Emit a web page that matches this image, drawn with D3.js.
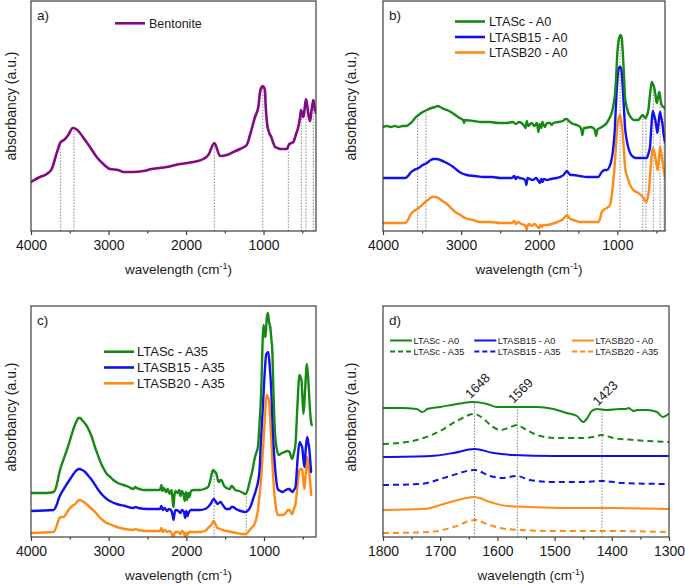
<!DOCTYPE html>
<html><head><meta charset="utf-8">
<script src="https://cdn.jsdelivr.net/npm/d3@7"></script>
<style>body{margin:0;background:#fff}svg{display:block;font-family:"Liberation Sans",Arial,sans-serif}</style>
</head><body>
<svg id="chart" width="685" height="586"></svg>
<script>
// ---------- DATA (wavenumber cm-1, absorbance a.u.) ----------
const bentonite = [[4000,49],[3884,54],[3797,57],[3733,62],[3668,78],[3617,89],[3574,91],[3519,96],[3462,103],[3419,102],[3368,98],[3303,91],[3239,84],[3153,74],[3067,67],[2981,62],[2874,61],[2809,59],[2680,59],[2551,60],[2443,62],[2249,64],[2077,67],[1905,69],[1776,72],[1712,76],[1634,88],[1561,75],[1475,76],[1389,79],[1303,82],[1217,86],[1174,96],[1110,114],[1067,124],[1045,139],[1023,144],[1010,145],[990,143],[981,140],[972,125],[955,108],[935,100],[900,94],[874,88],[850,84],[820,83],[787,82],[720,82],[701,82],[680,85],[667,87],[640,88],[615,89],[580,97],[551,104],[530,113],[516,121],[500,116],[486,114],[470,122],[452,132],[435,125],[420,116],[400,110],[385,118],[370,126],[357,131],[343,124],[323,118]];
const bentoniteMarks = [3617,3445,1634,1010,680,512,452,357];

const ltascA0 = [[4000,104],[3950,105],[3900,104],[3850,105],[3800,104],[3750,105],[3700,105],[3660,107],[3629,109],[3590,113],[3545,116],[3490,119],[3437,121],[3380,123],[3331,124],[3300,125],[3267,124],[3220,122],[3182,121],[3130,119],[3075,116],[3020,113],[2975,111],[2962,108],[2950,111],[2841,110],[2740,109],[2628,109],[2520,108],[2414,108],[2340,109],[2300,107],[2260,109],[2200,106],[2175,103],[2160,110],[2140,105],[2100,108],[2060,105],[2030,108],[2010,99],[1995,107],[1975,103],[1960,109],[1930,104],[1900,108],[1860,108],[1840,106],[1818,108],[1700,110],[1660,112],[1647,112],[1620,110],[1590,108],[1563,107],[1520,106],[1477,104],[1460,101],[1448,96],[1440,99],[1430,103],[1413,103],[1350,104],[1307,103],[1285,100],[1272,95],[1262,99],[1250,102],[1221,103],[1180,105],[1136,108],[1100,113],[1072,118],[1050,126],[1029,138],[1015,155],[1000,178],[985,190],[974,194],[960,196],[944,193],[933,182],[923,168],[912,150],[902,134],[880,124],[859,118],[830,114],[795,111],[760,111],[731,111],[700,114],[675,116],[655,114],[637,113],[620,116],[603,121],[580,138],[560,149],[545,147],[530,144],[512,136],[496,128],[480,133],[463,139],[448,132],[433,126],[410,124],[390,123]];
const ltasb15A0 = [[4000,53],[3715,53],[3680,55],[3651,58],[3600,61],[3545,63],[3490,66],[3437,68],[3390,71],[3353,72],[3310,72],[3267,71],[3210,69],[3161,67],[3100,64],[3054,61],[3000,58],[2926,56],[2820,55],[2713,54],[2600,54],[2500,53],[2414,53],[2350,53],[2320,55],[2300,52],[2280,54],[2250,53],[2200,52],[2175,50],[2165,46],[2155,50],[2150,53],[2120,52],[2080,51],[2040,53],[2010,50],[1990,48],[1975,52],[1960,49],[1940,52],[1903,51],[1850,52],[1780,53],[1733,54],[1690,56],[1660,59],[1647,60],[1625,58],[1600,56],[1563,56],[1480,55],[1391,54],[1300,54],[1243,54],[1200,59],[1160,61],[1136,61],[1085,68],[1051,84],[1030,105],[1017,128],[1000,150],[987,161],[970,164],[957,164],[940,155],[931,144],[915,122],[902,104],[880,91],[859,83],[830,77],[795,74],[760,73],[710,73],[660,73],[624,73],[600,78],[582,84],[565,104],[547,120],[530,116],[514,111],[500,104],[488,98],[470,110],[454,119],[440,114],[424,108],[410,98],[390,89]];
const ltasb20A0 = [[4000,8],[3715,8],[3680,11],[3651,16],[3620,19],[3580,21],[3545,23],[3500,26],[3459,29],[3410,32],[3373,34],[3330,34],[3289,33],[3240,30],[3182,27],[3130,23],[3075,19],[3010,16],[2948,13],[2850,11],[2756,9],[2620,9],[2500,8],[2414,8],[2350,8],[2320,10],[2300,7],[2270,9],[2230,7],[2190,6],[2170,4],[2160,1],[2150,5],[2130,7],[2100,5],[2060,7],[2020,4],[2000,3],[1985,6],[1965,4],[1950,6],[1903,6],[1800,8],[1740,10],[1711,11],[1670,14],[1645,16],[1625,14],[1600,12],[1563,11],[1480,9],[1391,9],[1300,9],[1243,9],[1215,14],[1200,19],[1160,22],[1136,23],[1093,26],[1059,44],[1029,71],[1000,104],[980,114],[965,116],[950,110],[936,101],[915,80],[902,64],[880,56],[859,51],[830,45],[795,41],[760,39],[731,38],[700,36],[667,33],[633,29],[615,32],[595,41],[575,62],[547,83],[530,80],[514,74],[498,66],[483,61],[468,72],[454,84],[440,79],[424,71],[405,60],[390,54]];
const marksA0 = [3557,3450,1639,965,675,633,539,454,403];

const ltascA35 = [[4000,44],[3800,44],[3710,45],[3680,49],[3666,53],[3633,65],[3602,73],[3570,80],[3538,87],[3505,95],[3474,103],[3445,110],[3418,115],[3389,119],[3365,119],[3345,117],[3320,115],[3290,112],[3255,107],[3217,100],[3185,92],[3153,85],[3120,78],[3089,72],[3055,67],[3024,63],[2980,60],[2940,57],[2880,54],[2811,52],[2740,50],[2683,48],[2655,50],[2640,49],[2600,48],[2555,47],[2480,47],[2383,47],[2340,47],[2320,52],[2310,46],[2290,49],[2260,45],[2240,48],[2215,43],[2190,47],[2175,36],[2165,30],[2155,40],[2140,46],[2110,44],[2090,47],[2075,41],[2060,46],[2040,44],[2020,36],[2005,45],[1990,37],[1975,44],[1960,40],[1940,46],[1900,47],[1827,47],[1770,48],[1720,50],[1690,57],[1670,64],[1656,67],[1640,66],[1612,63],[1590,56],[1579,55],[1560,57],[1540,56],[1520,52],[1484,49],[1440,48],[1420,51],[1399,50],[1370,47],[1320,46],[1270,44],[1236,43],[1210,47],[1185,55],[1150,66],[1121,78],[1100,84],[1078,90],[1060,110],[1035,147],[1015,200],[1005,212],[992,203],[980,200],[965,218],[950,224],[935,215],[919,210],[905,198],[893,187],[880,150],[864,113],[840,90],[808,82],[770,84],[736,85],[700,86],[671,85],[650,80],[637,78],[615,84],[594,93],[570,130],[543,162],[530,160],[517,157],[505,140],[492,123],[475,140],[460,162],[449,173],[437,165],[424,150],[410,130],[393,115],[385,112]];
const ltasb15A35 = [[4000,26],[3710,27],[3670,32],[3645,38],[3602,45],[3570,49],[3538,53],[3495,58],[3453,63],[3410,67],[3376,68],[3340,67],[3303,65],[3260,61],[3217,57],[3175,52],[3132,47],[3080,42],[3024,38],[2960,35],[2896,33],[2790,31],[2683,29],[2652,30],[2620,29],[2500,28],[2383,28],[2340,28],[2320,31],[2305,27],[2280,29],[2250,26],[2225,28],[2190,26],[2175,21],[2165,17],[2155,22],[2140,27],[2100,26],[2075,24],[2055,27],[2030,25],[2015,19],[2000,26],[1985,21],[1965,25],[1940,27],[1900,27],[1827,27],[1760,28],[1720,30],[1680,34],[1647,38],[1625,36],[1600,33],[1580,34],[1560,35],[1530,32],[1484,28],[1440,28],[1420,30],[1399,30],[1360,28],[1300,26],[1236,25],[1200,27],[1176,30],[1140,38],[1099,48],[1070,58],[1057,67],[1040,95],[1014,130],[990,165],[970,183],[945,185],[925,170],[906,147],[890,115],[873,87],[850,63],[822,48],[790,46],[757,45],[720,47],[671,48],[650,46],[637,45],[615,47],[594,50],[565,80],[540,95],[520,92],[508,90],[495,80],[479,70],[462,88],[444,100],[430,95],[415,87],[400,72],[393,65]];
const ltasb20A35 = [[4000,4],[3710,5],[3690,7],[3666,12],[3633,19],[3610,20],[3582,20],[3550,23],[3517,27],[3470,31],[3431,33],[3400,36],[3376,37],[3340,36],[3303,34],[3260,31],[3217,28],[3175,25],[3132,21],[3080,17],[3024,14],[2960,12],[2896,10],[2790,8],[2683,7],[2652,8],[2620,7],[2500,6],[2383,6],[2340,6],[2320,9],[2305,5],[2280,7],[2250,5],[2220,6],[2190,4],[2175,0],[2165,-2],[2155,3],[2140,5],[2100,5],[2075,3],[2055,6],[2030,4],[2015,0],[2000,4],[1985,2],[1965,5],[1940,5],[1900,5],[1827,5],[1760,6],[1720,9],[1680,12],[1647,16],[1625,13],[1600,9],[1560,8],[1530,7],[1484,6],[1420,5],[1350,4],[1290,3],[1228,3],[1185,7],[1150,10],[1121,13],[1100,18],[1078,27],[1060,40],[1035,60],[1015,85],[993,113],[975,135],[963,142],[950,140],[937,137],[920,118],[906,97],[890,72],[873,50],[850,32],[822,22],[790,22],[757,22],[720,24],[690,27],[671,27],[650,24],[637,23],[615,28],[594,33],[570,50],[545,66],[534,68],[520,68],[508,67],[494,57],[479,48],[462,63],[444,80],[430,72],[415,63],[400,50],[393,42]];
const marksA35 = [1643,1227];

const zoomLtascA0 = [[1800,129],[1770,129],[1741,128],[1735,126],[1732,125],[1727,126],[1723,128],[1700,130],[1671,133],[1642,135],[1618,133],[1601,130],[1572,130],[1531,130],[1502,128],[1479,124],[1461,121],[1450,115],[1444,118],[1435,126],[1426,128],[1409,127],[1386,128],[1375,128],[1371,129],[1365,127],[1362,126],[1355,127],[1339,127],[1321,125],[1311,120],[1301,123]];
const zoomLtascA35 = [[1800,93],[1758,95],[1729,99],[1700,106],[1671,116],[1640,123],[1624,118],[1610,111],[1595,107],[1581,109],[1566,112],[1549,107],[1525,101],[1496,99],[1455,99],[1432,100],[1418,102],[1397,99],[1362,97],[1300,95]];
const zoomLtasb15A0 = [[1800,80],[1717,81],[1677,84],[1640,88],[1607,84],[1572,82],[1500,81],[1400,81],[1300,81]];
const zoomLtasb15A35 = [[1800,52],[1735,53],[1688,60],[1640,67],[1613,61],[1592,59],[1566,61],[1543,57],[1502,55],[1450,55],[1418,56],[1380,54],[1300,53]];
const zoomLtasb20A0 = [[1800,27],[1729,28],[1688,34],[1640,40],[1613,35],[1583,31],[1543,30],[1480,29],[1400,29],[1300,28]];
const zoomLtasb20A35 = [[1800,4],[1717,5],[1677,10],[1639,17],[1618,13],[1595,9],[1560,7],[1500,6],[1400,6],[1300,5]];
const peakPositions = [1640,1565,1417];
const peakLabels = ["1648","1569","1423"];

const wideMajor = [4000,3000,2000,1000];
const wideMinor = [3500,2500,1500,500];
const zoomMajor = [1800,1700,1600,1500,1400,1300];
const zoomMinor = [1750,1650,1550,1450,1350];

// ---------- DRAWING ----------
const C = {green:"#148a14", blue:"#1010f0", orange:"#ff8a14", purple:"#820a82"};
const svg = d3.select("#chart");
const frameColor = "#3c3c3c";

function interp(series, w){
  for(let i=0;i<series.length-1;i++){
    const a=series[i], b=series[i+1];
    if((w<=a[0]&&w>=b[0])||(w>=a[0]&&w<=b[0])){
      const t=(w-a[0])/(b[0]-a[0]); return a[1]+t*(b[1]-a[1]);
    }
  }
  return series[series.length-1][1];
}

let clipId=0;
function panel(p){
  const x=d3.scaleLinear().domain(p.xDomain).range([p.left,p.right]);
  const y=d3.scaleLinear().domain([0,p.bottom-p.top]).range([p.bottom,p.top]);
  const g=svg.append("g");
  const id="clip"+(clipId++);
  g.append("clipPath").attr("id",id).append("rect")
    .attr("x",p.left).attr("y",p.top).attr("width",p.right-p.left).attr("height",p.bottom-p.top);
  const inner=g.append("g").attr("clip-path",`url(#${id})`);
  p.marks.forEach(w=>{
    inner.append("line").attr("x1",x(w)).attr("x2",x(w))
      .attr("y1",p.bottom).attr("y2",y(interp(p.markRef,w)))
      .attr("stroke","#8a8a8a").attr("stroke-width",1).attr("stroke-dasharray","1.5,1.5");
  });
  const line=d3.line().x(d=>x(d[0])).y(d=>y(d[1])).curve(d3.curveMonotoneX);
  p.series.forEach(s=>{
    inner.append("path").datum(s.data).attr("d",line).attr("fill","none")
      .attr("stroke",s.color).attr("stroke-width",p.sw)
      .attr("stroke-linejoin","round").attr("stroke-linecap",s.dash?"butt":"round")
      .attr("stroke-dasharray",s.dash?p.dash:null);
  });
  g.append("rect").attr("x",p.left).attr("y",p.top).attr("width",p.right-p.left)
    .attr("height",p.bottom-p.top).attr("fill","none").attr("stroke",frameColor).attr("stroke-width",1.2);
  const ax=g.append("g").attr("transform",`translate(0,${p.bottom})`)
    .call(d3.axisBottom(x).tickValues(p.major).tickSize(4).tickPadding(5).tickFormat(d3.format("d")));
  ax.select(".domain").remove();
  ax.selectAll("line").attr("stroke",frameColor).attr("stroke-width",1.2);
  ax.selectAll("text").attr("font-size",14).attr("fill","#1a1a1a").attr("font-family",'"Liberation Sans",Arial,sans-serif');
  const mx=g.append("g").attr("transform",`translate(0,${p.bottom})`)
    .call(d3.axisBottom(x).tickValues(p.minor).tickSize(2.5).tickFormat(""));
  mx.select(".domain").remove();
  mx.selectAll("line").attr("stroke",frameColor).attr("stroke-width",1.2);
  const xt=g.append("text").attr("x",(p.left+p.right)/2+5).attr("y",p.bottom+43)
    .attr("text-anchor","middle").attr("font-size",13.5).attr("fill","#1a1a1a");
  xt.append("tspan").text("wavelength (cm");
  xt.append("tspan").attr("dy",-5).attr("font-size",9).text("-1");
  xt.append("tspan").attr("dy",5).text(")");
  g.append("text").attr("transform",`translate(${p.ylabX},${p.ylabY}) rotate(-90)`)
    .attr("text-anchor","middle").attr("font-size",14).attr("fill","#1a1a1a").text("absorbancy (a.u.)");
  g.append("text").attr("x",p.left+6).attr("y",p.top+19).attr("font-size",13.5).attr("fill","#1a1a1a").text(p.tag);
  const L=p.legend, colW=L.colW||0;
  L.rows.forEach((r,i)=>{
    const lx=L.x + (r.col||0)*colW;
    const ly=L.y + (r.row!==undefined?r.row:i)*L.dy;
    g.append("line").attr("x1",lx).attr("x2",lx+L.len).attr("y1",ly).attr("y2",ly)
      .attr("stroke",r.color).attr("stroke-width",L.sw).attr("stroke-dasharray",r.dash?L.dash:null);
    g.append("text").attr("x",lx+L.len+L.gap).attr("y",ly+L.fs*0.36)
      .attr("font-size",L.fs).attr("fill","#1a1a1a").text(r.name);
  });
  return {x,y,g,inner};
}

panel({left:31,right:316,top:1,bottom:231,xDomain:[4000,323],major:wideMajor,minor:wideMinor,
  sw:2.6,tag:"a)",ylabX:16,ylabY:106,marks:bentoniteMarks,markRef:bentonite,
  series:[{data:bentonite,color:C.purple}],
  legend:{x:115,y:23.3,dy:15.5,len:30,gap:4,fs:12.5,sw:2.6,rows:[{name:"Bentonite",color:C.purple}]}});

panel({left:383,right:665,top:1,bottom:231,xDomain:[4000,390],major:wideMajor,minor:wideMinor,
  sw:2.4,tag:"b)",ylabX:356,ylabY:106,marks:marksA0,markRef:ltascA0,
  series:[{data:ltasb20A0,color:C.orange},{data:ltasb15A0,color:C.blue},{data:ltascA0,color:C.green}],
  legend:{x:455,y:21.5,dy:15.5,len:30,gap:4,fs:12.7,sw:2.6,rows:[
    {name:"LTASc - A0",color:C.green},{name:"LTASB15 - A0",color:C.blue},{name:"LTASB20 - A0",color:C.orange}]}});

panel({left:31,right:316,top:306,bottom:537,xDomain:[4000,330],major:wideMajor,minor:wideMinor,
  sw:2.4,tag:"c)",ylabX:16,ylabY:417,marks:marksA35,markRef:ltascA35,
  series:[{data:ltasb20A35,color:C.orange},{data:ltasb15A35,color:C.blue},{data:ltascA35,color:C.green}],
  legend:{x:104,y:351.7,dy:15.8,len:30,gap:3,fs:13,sw:2.6,rows:[
    {name:"LTASc - A35",color:C.green},{name:"LTASB15 - A35",color:C.blue},{name:"LTASB20 - A35",color:C.orange}]}});

const pd = panel({left:383,right:669,top:306,bottom:537,xDomain:[1800,1300],major:zoomMajor,minor:zoomMinor,
  sw:2,dash:"6,4",tag:"d)",ylabX:356,ylabY:417,marks:peakPositions,markRef:zoomLtascA0,
  series:[{data:zoomLtasb20A35,color:C.orange,dash:true},{data:zoomLtasb20A0,color:C.orange},
          {data:zoomLtasb15A35,color:C.blue,dash:true},{data:zoomLtasb15A0,color:C.blue},
          {data:zoomLtascA35,color:C.green,dash:true},{data:zoomLtascA0,color:C.green}],
  legend:{x:390,y:340.5,dy:11,colW:84.3,len:22,gap:1.5,fs:9.3,sw:2,dash:"5,3",rows:[
    {name:"LTASc - A0",color:C.green,col:0,row:0},{name:"LTASc - A35",color:C.green,dash:true,col:0,row:1},
    {name:"LTASB15 - A0",color:C.blue,col:1,row:0},{name:"LTASB15 - A35",color:C.blue,dash:true,col:1,row:1},
    {name:"LTASB20 - A0",color:C.orange,col:2.16,row:0},{name:"LTASB20 - A35",color:C.orange,dash:true,col:2.16,row:1}]}});

peakPositions.forEach((w,i)=>{
  const px=pd.x(w)-4, py=pd.y(interp(zoomLtascA0,w))-3;
  pd.g.append("text").attr("transform",`translate(${px},${py}) rotate(-45)`)
    .attr("font-size",13).attr("fill","#1a1a1a").text(peakLabels[i]);
});
</script>
</body></html>
